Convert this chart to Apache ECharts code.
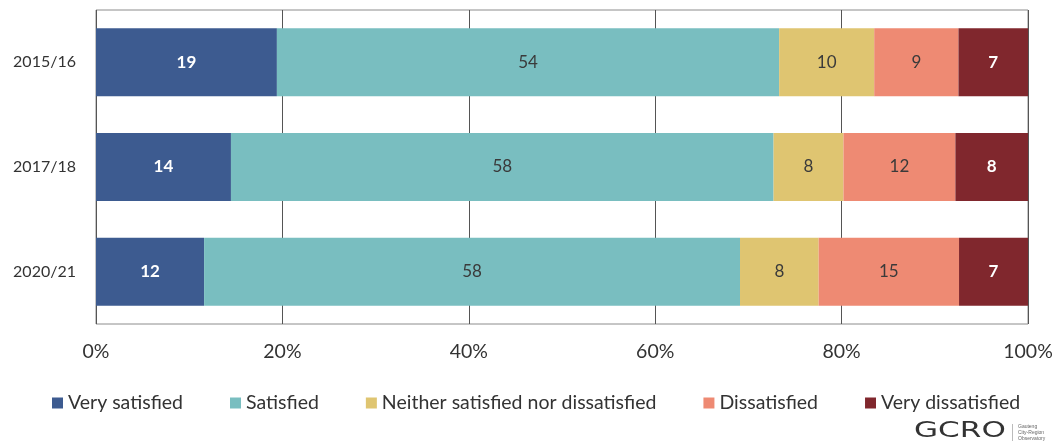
<!DOCTYPE html>
<html>
<head>
<meta charset="utf-8">
<script src="https://cdn.jsdelivr.net/npm/echarts@6/dist/echarts.min.js"></script>
<style>html,body{margin:0;padding:0;background:#fff}#c{width:1058px;height:443px}</style>
</head>
<body>
<div id="c"></div>
<script>
// Categories (top to bottom as displayed)
const categories = ['2015/16', '2017/18', '2020/21'];
// Shares (%), in category order
const verySatisfied = [19.41, 14.48, 11.6];
const satisfied = [53.89, 58.22, 57.5];
const neither = [10.2, 7.5, 8.44];
const dissatisfied = [9.04, 12.01, 15.06];
const veryDissatisfied = [7.46, 7.79, 7.4];
const xTicks = [0, 20, 40, 60, 80, 100];

const seriesNames = ['Very satisfied', 'Satisfied', 'Neither satisfied nor dissatisfied', 'Dissatisfied', 'Very dissatisfied'];
const seriesData = [verySatisfied, satisfied, neither, dissatisfied, veryDissatisfied];
const colors = ['#3d5b90', '#79bec0', '#dfc571', '#ee8a73', '#80272d'];
const labelColors = ['#ffffff', '#3a3a3a', '#3a3a3a', '#3a3a3a', '#ffffff'];
const FONT = 'Lato, "Open Sans", sans-serif';

const chart = echarts.init(document.getElementById('c'));
chart.setOption({
  animation: false,
  color: colors,
  textStyle: { fontFamily: FONT },
  grid: { left: 96, right: 30, top: 10, bottom: 119, show: true, borderColor: '#8c8c8c', borderWidth: 1, backgroundColor: 'transparent' },
  xAxis: {
    type: 'value', min: 0, max: 100, interval: 20,
    axisLine: { show: false }, axisTick: { show: false },
    splitLine: { show: true, lineStyle: { color: '#555', width: 1 } },
    axisLabel: { formatter: v => v + '%', fontSize: 19.5, color: '#333', margin: 18, fontFamily: FONT }
  },
  yAxis: {
    type: 'category', data: categories, inverse: true,
    axisLine: { show: false }, axisTick: { show: false },
    axisLabel: { fontSize: 16, color: '#333', margin: 20, fontFamily: FONT }
  },
  legend: {
    bottom: 25, left: 47, itemWidth: 11, itemHeight: 11, itemGap: 47,
    icon: 'rect',
    textStyle: { fontSize: 19.5, color: '#333', fontFamily: FONT },
    data: seriesNames
  },
  series: seriesNames.map((name, i) => ({
    name, type: 'bar', stack: 'total', barWidth: 68,
    data: seriesData[i],
    label: {
      show: true, position: 'inside', color: labelColors[i], fontSize: 17,
      fontWeight: i === 0 || i === 4 ? 'bold' : 'normal', fontFamily: FONT,
      formatter: p => Math.round(p.value)
    }
  })),
  graphic: [
    { type: 'text', x: 914, y: 421, scaleX: 1.48, style: { text: 'GCRO', font: '21px "DejaVu Sans", sans-serif', fill: '#333' } },
    { type: 'rect', shape: { x: 1012, y: 424, width: 1, height: 17 }, style: { fill: '#bbb' } },
    { type: 'text', x: 1018, y: 424, style: { text: 'Gauteng\nCity-Region\nObservatory', font: '5px sans-serif', lineHeight: 6, fill: '#666' } }
  ]
});
</script>
</body>
</html>
